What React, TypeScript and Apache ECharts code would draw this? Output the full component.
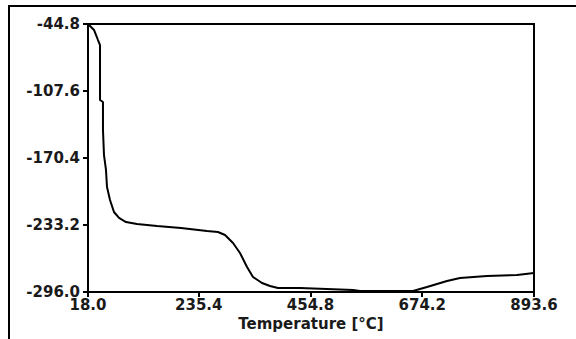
import React, { useEffect, useRef } from "react";
import * as echarts from "echarts";

// Temperature [°C]
const temps: number[] = [
  18.0, 20.0, 29.8, 37.6, 41.6, 41.6, 47.4, 47.4, 49.4, 53.3, 55.3, 61.2, 69.0, 78.9,
  92.6, 114.2, 153.5, 200.6, 251.6, 273.2, 287.0, 302.7, 316.4, 330.2, 341.9, 359.6,
  375.3, 391.0, 434.2, 538.3, 552.0, 656.0, 683.5, 722.8, 748.3, 801.3, 860.2, 893.6,
];
// Signal values
const values: number[] = [
  -44.8, -45.7, -50.4, -59.8, -64.5, -116.0, -117.9, -144.2, -167.6, -181.6, -197.6,
  -209.8, -221.0, -226.6, -230.4, -232.3, -234.1, -236.0, -238.8, -239.8, -242.6,
  -250.1, -259.4, -272.6, -281.9, -287.6, -290.4, -292.3, -292.3, -294.1, -295.1,
  -295.1, -291.3, -285.7, -282.9, -281.0, -280.1, -278.2,
];
const xTicks: number[] = [18.0, 235.4, 454.8, 674.2, 893.6];
const yTicks: number[] = [-296.0, -233.2, -170.4, -107.6, -44.8];
const xTitle = "Temperature [°C]";

export default function App() {
  const ref = useRef<HTMLDivElement>(null);
  useEffect(() => {
    if (!ref.current) return;
    const chart = echarts.init(ref.current, null, { renderer: "svg" });
    const labelFont = {
      fontFamily: "DejaVu Sans",
      fontWeight: 600,
      fontSize: 15,
      color: "#1a1a1a",
    };
    chart.setOption({
      animation: false,
      backgroundColor: "#ffffff",
      grid: {
        left: 88,
        right: 42,
        top: 24,
        bottom: 47,
        show: true,
        borderColor: "#000",
        borderWidth: 2,
        backgroundColor: "transparent",
      },
      xAxis: {
        type: "value",
        min: xTicks[0],
        max: xTicks[xTicks.length - 1],
        name: xTitle,
        nameLocation: "middle",
        nameGap: 23,
        nameTextStyle: { ...labelFont },
        axisLine: { show: true, lineStyle: { color: "#000", width: 2 } },
        axisTick: { show: true, length: 5, inside: false, customValues: xTicks, lineStyle: { color: "#000", width: 2 } },
        axisLabel: {
          ...labelFont,
          margin: 5,
          customValues: xTicks,
          formatter: (v: number) => v.toFixed(1),
          showMinLabel: true,
          showMaxLabel: true,
        },
        splitLine: { show: false },
      },
      yAxis: {
        type: "value",
        min: yTicks[0],
        max: yTicks[yTicks.length - 1],
        axisLine: { show: true, lineStyle: { color: "#000", width: 2 } },
        axisTick: { show: true, length: 5, inside: false, customValues: yTicks, lineStyle: { color: "#000", width: 2 } },
        axisLabel: {
          ...labelFont,
          margin: 8,
          customValues: yTicks,
          formatter: (v: number) => v.toFixed(1),
          showMinLabel: true,
          showMaxLabel: true,
        },
        splitLine: { show: false },
      },
      graphic: [
        { type: "line", shape: { x1: 8, y1: 6, x2: 576, y2: 6 }, style: { stroke: "#000", lineWidth: 2 } },
        { type: "line", shape: { x1: 9, y1: 5, x2: 9, y2: 339 }, style: { stroke: "#000", lineWidth: 2 } },
      ],
      series: [
        {
          type: "line",
          data: temps.map((t, i) => [t, values[i]]),
          showSymbol: false,
          symbol: "none",
          lineStyle: { color: "#000", width: 2 },
          clip: true,
        },
      ],
    });
    return () => chart.dispose();
  }, []);
  return (
    <div
      ref={ref}
      style={{ position: "fixed", left: 0, top: 0, width: 576, height: 339 }}
    />
  );
}
